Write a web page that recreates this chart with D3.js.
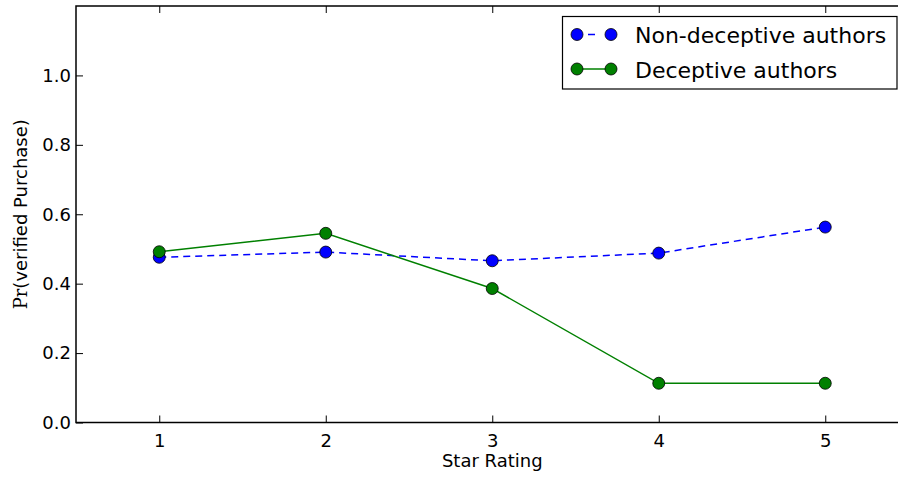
<!DOCTYPE html>
<html>
<head>
<meta charset="utf-8">
<script src="https://cdn.jsdelivr.net/npm/d3@7"></script>
<style>
  body { margin: 0; background: #fff; }
  svg { display: block; font-family: "DejaVu Sans", sans-serif; }
</style>
</head>
<body>
<svg id="chart" width="898" height="477"></svg>
<script>
// star ratings on the x axis
var ratings = [1, 2, 3, 4, 5];
// Pr(verified purchase) per rating
var nonDeceptive = [0.476, 0.491, 0.466, 0.488, 0.563];
var deceptive = [0.492, 0.545, 0.386, 0.113, 0.113];
var yTicks = [0.0, 0.2, 0.4, 0.6, 0.8, 1.0];
var seriesNames = ["Non-deceptive authors", "Deceptive authors"];

var svg = d3.select("#chart");

var pLeft = 76, pTop = 6, pRight = 908.5, pBottom = 422.5;
var x = d3.scaleLinear().domain([0.5, 5.5]).range([pLeft, pRight]);
var y = d3.scaleLinear().domain([0, 1.2]).range([pBottom, pTop]);

var tickLen = 7;

// axes: inward ticks on all sides (matplotlib classic)
var gx = svg.append("g").attr("transform", "translate(0," + pBottom + ")")
    .call(d3.axisBottom(x).tickValues(ratings).tickFormat(d3.format("d"))
        .tickSizeInner(-tickLen).tickSizeOuter(0).tickPadding(12));
var gxTop = svg.append("g").attr("transform", "translate(0," + pTop + ")")
    .call(d3.axisTop(x).tickValues(ratings).tickFormat("")
        .tickSizeInner(-tickLen).tickSizeOuter(0));
var gy = svg.append("g").attr("transform", "translate(" + pLeft + ",0)")
    .call(d3.axisLeft(y).tickValues(yTicks).tickFormat(d3.format(".1f"))
        .tickSizeInner(-tickLen).tickSizeOuter(0).tickPadding(5));
var gyRight = svg.append("g").attr("transform", "translate(" + pRight + ",0)")
    .call(d3.axisRight(y).tickValues(yTicks).tickFormat("")
        .tickSizeInner(-tickLen).tickSizeOuter(0));

[gx, gxTop, gy, gyRight].forEach(function (g) {
    g.attr("font-size", 18).attr("font-family", "DejaVu Sans");
    g.selectAll(".domain").remove();
    g.selectAll(".tick line").attr("stroke", "#000").attr("stroke-width", 1);
    g.selectAll("text").attr("fill", "#000");
});

// frame
svg.append("rect")
    .attr("x", pLeft).attr("y", pTop)
    .attr("width", pRight - pLeft).attr("height", pBottom - pTop)
    .attr("fill", "none").attr("stroke", "#000").attr("stroke-width", 1.5);

// axis labels
svg.append("text")
    .attr("x", (pLeft + pRight) / 2).attr("y", 467)
    .attr("text-anchor", "middle").attr("font-size", 18)
    .text("Star Rating");

var yl = svg.append("text")
    .attr("transform", "translate(27," + (pTop + pBottom) / 2 + ") rotate(-90)")
    .attr("text-anchor", "middle").attr("font-size", 18);
yl.append("tspan").attr("font-family", "DejaVu Serif").text("Pr");
yl.append("tspan").text("(verified Purchase)");

var series = [
    { name: seriesNames[0], values: nonDeceptive, color: "#0000ff", dash: "7,5" },
    { name: seriesNames[1], values: deceptive, color: "#008000", dash: null }
];

var line = d3.line()
    .x(function (d, i) { return x(ratings[i]); })
    .y(function (d) { return y(d); });

series.forEach(function (s) {
    svg.append("path")
        .attr("d", line(s.values))
        .attr("fill", "none")
        .attr("stroke", s.color)
        .attr("stroke-width", 1.5)
        .attr("stroke-dasharray", s.dash);
});

series.forEach(function (s) {
    svg.append("g").selectAll("circle")
        .data(s.values)
        .enter().append("circle")
        .attr("cx", function (d, i) { return x(ratings[i]); })
        .attr("cy", function (d) { return y(d); })
        .attr("r", 6)
        .attr("fill", s.color)
        .attr("stroke", "#000")
        .attr("stroke-width", 0.8);
});

// legend
var lg = svg.append("g");
lg.append("rect")
    .attr("x", 562.5).attr("y", 16.5)
    .attr("width", 334.5).attr("height", 72.5)
    .attr("fill", "#fff").attr("stroke", "#000").attr("stroke-width", 1.2);

var rowY = [34.5, 69];
series.forEach(function (s, i) {
    var ry = rowY[i];
    lg.append("line")
        .attr("x1", 577).attr("x2", 611)
        .attr("y1", ry).attr("y2", ry)
        .attr("stroke", s.color).attr("stroke-width", 1.5)
        .attr("stroke-dasharray", s.dash ? "0,11,7,20" : null);
    [577, 611].forEach(function (cx) {
        lg.append("circle")
            .attr("cx", cx).attr("cy", ry).attr("r", 6)
            .attr("fill", s.color).attr("stroke", "#000").attr("stroke-width", 0.8);
    });
    lg.append("text")
        .attr("x", 635).attr("y", ry + 8.5)
        .attr("font-size", 22)
        .text(s.name);
});
</script>
</body>
</html>
